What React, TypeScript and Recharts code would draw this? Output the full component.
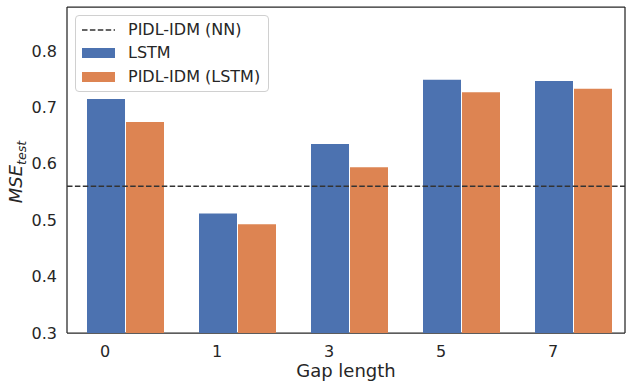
import React from "react";
import {
  BarChart,
  Bar,
  XAxis,
  YAxis,
  CartesianGrid,
  ReferenceLine,
} from "recharts";

const gaps = ["0", "1", "3", "5", "7"];
const lstm = [0.715, 0.512, 0.635, 0.749, 0.747];
const pidlLstm = [0.674, 0.493, 0.594, 0.727, 0.733];
const pidlNN = 0.56;
const yTicks = [0.3, 0.4, 0.5, 0.6, 0.7, 0.8];
const legendLabels = ["PIDL-IDM (NN)", "LSTM", "PIDL-IDM (LSTM)"];

const BLUE = "#4C72B0";
const ORANGE = "#DD8452";
const INK = "#262626";
const FONT = "'DejaVu Sans', sans-serif";

const data = gaps.map((g, i) => ({ gap: g, lstm: lstm[i], pidl: pidlLstm[i] }));

function GapTick(props: any) {
  const { x, y, payload } = props;
  // ticks sit under the blue bar, like the matplotlib original
  return (
    <text x={x - 20} y={y + 16} dy="0.36em" textAnchor="middle" fill={INK} fontSize={16} fontFamily={FONT}>
      {payload.value}
    </text>
  );
}

function MseLabel(props: any) {
  const vb = props.viewBox || { x: 0, y: 7, width: 67, height: 326 };
  const cx = vb.x + 22;
  const cy = vb.y + vb.height / 2 + 2;
  return (
    <text
      x={cx}
      y={cy}
      transform={`rotate(-90, ${cx}, ${cy})`}
      textAnchor="middle"
      fill={INK}
      fontFamily={FONT}
      fontSize={18}
      fontStyle="italic"
    >
      MSE
      <tspan fontSize={12.6} dy={4}>test</tspan>
    </text>
  );
}

function LegendBox() {
  const row = { display: "flex", alignItems: "center", height: 23.5 } as const;
  const handle = { width: 33, marginRight: 13, display: "flex", alignItems: "center" } as const;
  return (
    <div
      style={{
        position: "absolute",
        left: 75,
        top: 15,
        border: "1px solid #d0d0d0",
        borderRadius: 4,
        background: "rgba(255,255,255,0.8)",
        padding: "2px 8px 2px 6px",
        fontFamily: FONT,
        fontSize: 16,
        color: INK,
        lineHeight: 1,
      }}
    >
      <div style={row}>
        <div style={handle}>
          <svg width={33} height={4}>
            <line x1={0} y1={2} x2={33} y2={2} stroke="#333" strokeWidth={1.5} strokeDasharray="5.5 2.4" />
          </svg>
        </div>
        <span>{legendLabels[0]}</span>
      </div>
      <div style={row}>
        <div style={handle}>
          <div style={{ width: 33, height: 10, background: BLUE }} />
        </div>
        <span>{legendLabels[1]}</span>
      </div>
      <div style={row}>
        <div style={handle}>
          <div style={{ width: 33, height: 10, background: ORANGE }} />
        </div>
        <span>{legendLabels[2]}</span>
      </div>
    </div>
  );
}

export default function App() {
  return (
    <div style={{ position: "absolute", left: 0, top: 0, width: 632, height: 387, background: "white" }}>
      <BarChart
        width={632}
        height={387}
        data={data}
        margin={{ top: 7, right: 7, left: 0, bottom: 0 }}
        barSize={38}
        barGap={1}
      >
        <XAxis
          dataKey="gap"
          height={54}
          padding={{ left: 2, right: -4 }}
          tickLine={false}
          tickSize={0}
          axisLine={false}
          tick={<GapTick />}
          label={{
            value: "Gap length",
            position: "insideBottom",
            offset: 10,
            fill: INK,
            fontSize: 18,
            fontFamily: FONT,
          }}
        />
        <YAxis
          width={67}
          domain={[0.3, 0.878]}
          ticks={yTicks}
          allowDataOverflow
          tickLine={false}
          tickSize={0}
          tickMargin={10}
          axisLine={false}
          tickFormatter={(v: number) => v.toFixed(1)}
          tick={{ fill: INK, fontSize: 16, fontFamily: FONT }}
          label={{ content: <MseLabel /> }}
        />
        <Bar dataKey="lstm" fill={BLUE} isAnimationActive={false} />
        <Bar dataKey="pidl" fill={ORANGE} isAnimationActive={false} />
        <ReferenceLine y={pidlNN} stroke="#333" strokeWidth={1.5} strokeDasharray="5.5 2.4" />
        {/* axes frame drawn from the plot offset */}
        <CartesianGrid
          stroke={INK}
          strokeWidth={1.25}
          horizontalCoordinatesGenerator={({ offset }: any) => [offset.top, offset.top + offset.height]}
          verticalCoordinatesGenerator={({ offset }: any) => [offset.left, offset.left + offset.width]}
        />
      </BarChart>
      <LegendBox />
    </div>
  );
}
